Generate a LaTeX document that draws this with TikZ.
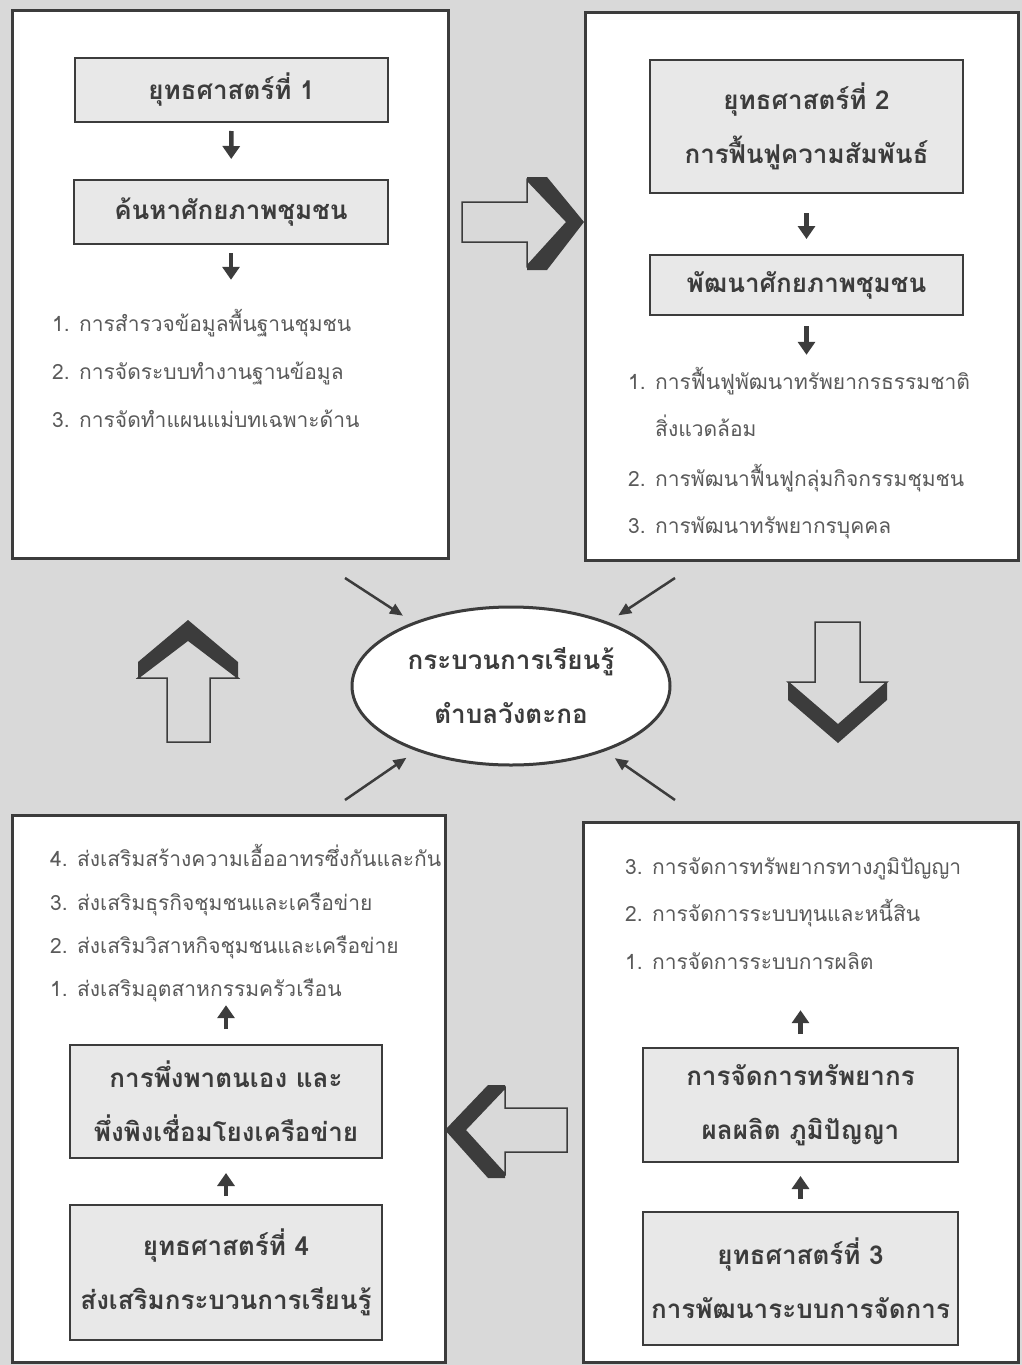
\documentclass[tikz,border=0pt]{standalone}
\usepackage{fontspec}
\newfontfamily\thaifont[Script=Thai]{Loma}
\usetikzlibrary{shapes.geometric,arrows.meta}
\definecolor{paper}{HTML}{D9D9D9}
\definecolor{ink}{HTML}{3C3C3C}
\definecolor{boxfill}{HTML}{E8E8E8}
\definecolor{listink}{HTML}{5A5A5A}
\newcommand{\stepfont}{\thaifont\bfseries\fontsize{26}{54}\selectfont}
\newcommand{\listfont}{\thaifont\fontsize{21}{44}\selectfont}
\newcommand{\num}[1]{\makebox[27pt][l]{#1}}

\begin{document}
\begin{tikzpicture}[x=1pt,y=-1pt,
    panel/.style={draw=ink,line width=3pt,fill=white,inner sep=0pt},
    stepbox/.style={draw=ink,line width=2pt,fill=boxfill,inner sep=0pt,align=center,text=ink,font=\stepfont},
    item/.style={anchor=west,inner sep=0pt,text=listink,font=\listfont,text height=18pt,text depth=6pt},
    flow/.style={draw=ink,line width=4.5pt,-{Triangle[width=17pt,length=13pt]}},
    spoke/.style={draw=ink,line width=2.5pt,-{Triangle[width=11pt,length=13pt]},shorten >=12pt},
    bigarrow/.style={draw=ink,line width=1.5pt,fill=paper},
    shade/.style={fill=ink}]
  \fill[paper] (0,0) rectangle (1022,1365);
  \useasboundingbox (0,0) rectangle (1022,1365);

  \node[panel,minimum width=436pt,minimum height=548pt] (panel1) at (230,284) {};
  \node[panel,minimum width=433pt,minimum height=548pt] (panel2) at (801.5,286) {};
  \node[panel,minimum width=433pt,minimum height=547pt] (panel4) at (228.5,1088.5) {};
  \node[panel,minimum width=435pt,minimum height=540pt] (panel3) at (800.5,1092) {};

  \node[stepbox,minimum width=313pt,minimum height=64pt] (s1) at (231.5,90) {ยุทธศาสตร์ที่ 1};
  \node[stepbox,minimum width=314pt,minimum height=64pt] (find1) at (231,212) {ค้นหาศักยภาพชุมชน};
  \node[item] (l1a) at (52,325) {\num{1.}การสำรวจข้อมูลพื้นฐานชุมชน};
  \node[item] (l1b) at (52,373) {\num{2.}การจัดระบบทำงานฐานข้อมูล};
  \node[item] (l1c) at (52,421) {\num{3.}การจัดทำแผนแม่บทเฉพาะด้าน};
  \draw[flow,shorten <=8pt,shorten >=20pt] (s1) -- (find1);
  \draw[flow,shorten <=8pt,shorten >=33pt] (find1) -- (find1 |- l1a.north);

  \node[stepbox,minimum width=313pt,minimum height=133pt] (s2) at (806.5,126.5) {ยุทธศาสตร์ที่ 2\\การฟื้นฟูความสัมพันธ์};
  \node[stepbox,minimum width=313pt,minimum height=60pt] (find2) at (806.5,285) {พัฒนาศักยภาพชุมชน};
  \node[item] (l2a) at (628,383) {\num{1.}การฟื้นฟูพัฒนาทรัพยากรธรรมชาติ};
  \node[item] (l2b) at (628,430) {\num{}สิ่งแวดล้อม};
  \node[item] (l2c) at (628,480) {\num{2.}การพัฒนาฟื้นฟูกลุ่มกิจกรรมชุมชน};
  \node[item] (l2d) at (628,527) {\num{3.}การพัฒนาทรัพยากรบุคคล};
  \draw[flow,shorten <=19pt,shorten >=15pt] (s2) -- (find2);
  \draw[flow,shorten <=10pt,shorten >=16pt] (find2) -- (find2 |- l2a.north);

  \node[stepbox,minimum width=315pt,minimum height=133pt] (s3) at (800.5,1278.5) {ยุทธศาสตร์ที่ 3\\การพัฒนาระบบการจัดการ};
  \node[stepbox,minimum width=315pt,minimum height=114pt] (res3) at (800.5,1105) {การจัดการทรัพยากร\\ผลผลิต ภูมิปัญญา};
  \node[item] (l3c) at (625,868) {\num{3.}การจัดการทรัพยากรทางภูมิปัญญา};
  \node[item] (l3b) at (625,915) {\num{2.}การจัดการระบบทุนและหนี้สิน};
  \node[item] (l3a) at (625,963) {\num{1.}การจัดการระบบการผลิต};
  \draw[flow,shorten <=12pt,shorten >=13pt] (s3) -- (res3);
  \draw[flow,shorten <=13pt,shorten >=35pt] (res3) -- (res3 |- l3a.south);

  \node[stepbox,minimum width=312pt,minimum height=135pt] (s4) at (226,1272.5) {ยุทธศาสตร์ที่ 4\\ส่งเสริมกระบวนการเรียนรู้};
  \node[stepbox,minimum width=312pt,minimum height=113pt] (link4) at (226,1101.5) {การพึ่งพาตนเอง และ\\พึ่งพิงเชื่อมโยงเครือข่าย};
  \node[item] (l4d) at (50,860) {\num{4.}ส่งเสริมสร้างความเอื้ออาทรซึ่งกันและกัน};
  \node[item] (l4c) at (50,904) {\num{3.}ส่งเสริมธุรกิจชุมชนและเครือข่าย};
  \node[item] (l4b) at (50,947) {\num{2.}ส่งเสริมวิสาหกิจชุมชนและเครือข่าย};
  \node[item] (l4a) at (50,990) {\num{1.}ส่งเสริมอุตสาหกรรมครัวเรือน};
  \draw[flow,shorten <=8pt,shorten >=14pt] (s4) -- (link4);
  \draw[flow,shorten <=15pt,shorten >=3pt] (link4) -- (link4 |- l4a.south);

  \node[draw=ink,line width=3pt,fill=white,ellipse,minimum width=318pt,minimum height=158pt,inner sep=0pt,align=center,text=ink,font=\stepfont] (core) at (511,686) {กระบวนการเรียนรู้\\ตำบลวังตะกอ};
  \coordinate (nw) at (345,578);
  \coordinate (ne) at (675,578);
  \coordinate (sw) at (345,800);
  \coordinate (se) at (675,800);
  \foreach \c in {nw,ne,sw,se}
    \draw[spoke] (\c) -- (core);

  \filldraw[bigarrow] (462,202) -- (527,202) -- (527,180) -- (567,222) -- (527,266) -- (527,242) -- (462,242) -- cycle;
  \fill[shade] (527,177) -- (547,177) -- (584,222) -- (547,270) -- (527,270) -- (527,266) -- (567,222) -- (527,180) -- cycle;
  \filldraw[bigarrow] (815,622) -- (860,622) -- (860,682) -- (887,682) -- (838,725) -- (788,682) -- (815,682) -- cycle;
  \fill[shade] (788,682) -- (838,725) -- (887,682) -- (887,700) -- (838,743) -- (788,700) -- cycle;
  \filldraw[bigarrow] (567,1108) -- (505,1108) -- (505,1088) -- (465,1130) -- (505,1174) -- (505,1152) -- (567,1152) -- cycle;
  \fill[shade] (505,1085) -- (488,1085) -- (445,1130) -- (488,1178) -- (505,1178) -- (505,1174) -- (465,1130) -- (505,1088) -- cycle;
  \filldraw[bigarrow] (167,742) -- (167,678) -- (138,678) -- (188,640) -- (238,678) -- (210,678) -- (210,742) -- cycle;
  \fill[shade] (138,678) -- (138,662) -- (188,620) -- (238,662) -- (238,678) -- (188,640) -- cycle;
\end{tikzpicture}
\end{document}
